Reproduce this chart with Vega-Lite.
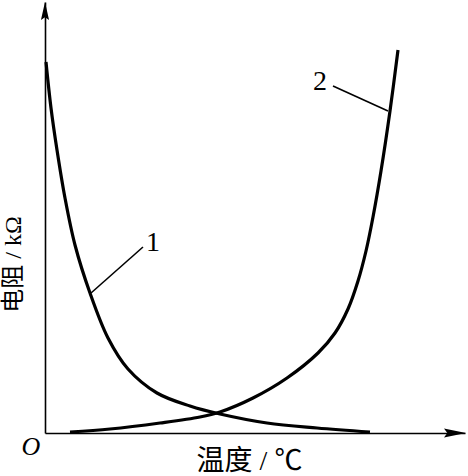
{
  "$schema": "https://vega.github.io/schema/vega-lite/v6.json",
  "width": 420,
  "height": 431,
  "autosize": {"type": "none"},
  "padding": {"left": 45, "top": 2, "right": 3, "bottom": 43},
  "background": "white",
  "config": {"view": {"stroke": null}},
  "datasets": {
    "curves": [
      {"curve": "1", "x": 1, "y": 371},
      {"curve": "1", "x": 6, "y": 325},
      {"curve": "1", "x": 12, "y": 283},
      {"curve": "1", "x": 20, "y": 235},
      {"curve": "1", "x": 30, "y": 188},
      {"curve": "1", "x": 45, "y": 140},
      {"curve": "1", "x": 63, "y": 95},
      {"curve": "1", "x": 83, "y": 64},
      {"curve": "1", "x": 112, "y": 40},
      {"curve": "1", "x": 145, "y": 27},
      {"curve": "1", "x": 175, "y": 19},
      {"curve": "1", "x": 222, "y": 10},
      {"curve": "1", "x": 272, "y": 5},
      {"curve": "1", "x": 325, "y": 1},
      {"curve": "2", "x": 25, "y": 1},
      {"curve": "2", "x": 65, "y": 4},
      {"curve": "2", "x": 115, "y": 10},
      {"curve": "2", "x": 155, "y": 16},
      {"curve": "2", "x": 175, "y": 21},
      {"curve": "2", "x": 208, "y": 35},
      {"curve": "2", "x": 242, "y": 55},
      {"curve": "2", "x": 273, "y": 80},
      {"curve": "2", "x": 290, "y": 100},
      {"curve": "2", "x": 303, "y": 124},
      {"curve": "2", "x": 313, "y": 152},
      {"curve": "2", "x": 321, "y": 182},
      {"curve": "2", "x": 328, "y": 216},
      {"curve": "2", "x": 336, "y": 262},
      {"curve": "2", "x": 345, "y": 322},
      {"curve": "2", "x": 353, "y": 383}
    ],
    "leaders": [
      {"id": "1", "x": 46, "y": 140},
      {"id": "1", "x": 98, "y": 186},
      {"id": "2", "x": 288, "y": 347},
      {"id": "2", "x": 343, "y": 322}
    ],
    "labels": [
      {"label": "1", "x": 108, "y": 190},
      {"label": "2", "x": 275, "y": 351}
    ],
    "origin": [
      {"label": "O", "x": -14, "y": -14}
    ],
    "yarrow": [{"x": 0, "y": 422}],
    "xarrow": [{"x": 410, "y": 0}]
  },
  "encoding": {
    "x": {
      "field": "x",
      "type": "quantitative",
      "scale": {"domain": [0, 420], "nice": false, "zero": false},
      "axis": {
        "title": "温度 / ℃",
        "ticks": false,
        "labels": false,
        "grid": false,
        "domainColor": "black",
        "domainWidth": 1.6,
        "titleFont": "Liberation Serif, Noto Sans CJK SC",
        "titleFontSize": 28,
        "titleFontWeight": "normal",
        "titleColor": "black",
        "titleX": 204,
        "titleY": 28,
        "titleAlign": "center",
        "titleBaseline": "middle"
      }
    },
    "y": {
      "field": "y",
      "type": "quantitative",
      "scale": {"domain": [0, 431], "nice": false, "zero": false},
      "axis": {
        "title": "电阻 / kΩ",
        "ticks": false,
        "labels": false,
        "grid": false,
        "domainColor": "black",
        "domainWidth": 1.6,
        "titleFont": "Liberation Serif, Noto Sans CJK SC",
        "titleFontSize": 24,
        "titleFontWeight": "normal",
        "titleColor": "black",
        "titleAngle": -90,
        "titleX": -32,
        "titleY": 262,
        "titleAlign": "center",
        "titleBaseline": "middle"
      }
    }
  },
  "layer": [
    {
      "data": {"name": "curves"},
      "mark": {"type": "line", "color": "black", "strokeWidth": 3.2, "interpolate": "catmull-rom"},
      "encoding": {"detail": {"field": "curve"}}
    },
    {
      "data": {"name": "leaders"},
      "mark": {"type": "line", "color": "black", "strokeWidth": 1.6},
      "encoding": {"detail": {"field": "id"}}
    },
    {
      "data": {"name": "labels"},
      "mark": {"type": "text", "font": "Liberation Serif", "fontSize": 28, "color": "black", "align": "center", "baseline": "middle"},
      "encoding": {"text": {"field": "label"}}
    },
    {
      "data": {"name": "origin"},
      "mark": {"type": "text", "font": "Liberation Serif", "fontStyle": "italic", "fontSize": 26, "color": "black", "align": "center", "baseline": "middle"},
      "encoding": {"text": {"field": "label"}}
    },
    {
      "data": {"name": "yarrow"},
      "mark": {"type": "point", "filled": true, "color": "black", "opacity": 1, "size": 324, "shape": "M 0 -1 L 0.45 1 L 0 0.7 L -0.45 1 Z"},
      "encoding": {}
    },
    {
      "data": {"name": "xarrow"},
      "mark": {"type": "point", "filled": true, "color": "black", "opacity": 1, "size": 484, "shape": "M 1 0 L -1 -0.4 L -0.7 0 L -1 0.4 Z"},
      "encoding": {}
    }
  ]
}
